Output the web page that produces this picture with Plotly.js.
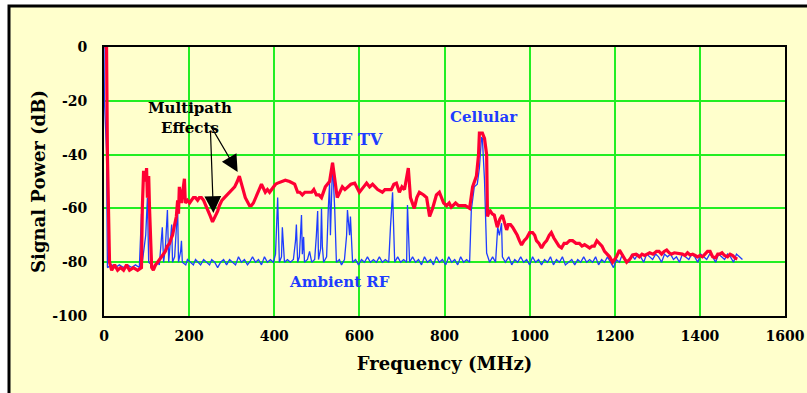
<!DOCTYPE html>
<html>
<head>
<meta charset="utf-8">
<script src="https://cdn.plot.ly/plotly-3.0.1.min.js"></script>
<style>html,body{margin:0;padding:0;background:#fff;}#chart{width:807px;height:393px;}</style>
</head>
<body>
<div id="chart"></div>
<script>
// Red trace (signal with multipath), frequency in MHz and power in dB
const redFreq = [1,6,8,13,18,25,32,39,46,53,60,69,79,88,90,93,98,100,102,105,107,112,116,121,126,130,135,140,144,149,154,158,161,166,170,173,175,177,182,184,189,191,196,201,206,210,215,220,224,229,234,243,250,255,262,267,271,277,283,289,295,301,307,313,318,325,332,342,346,351,356,361,366,370,379,384,389,398,403,408,417,426,436,442,448,455,460,466,472,478,488,493,499,505,511,520,530,537,544,548,554,560,566,572,580,589,594,600,610,617,624,631,637,643,654,660,666,675,681,687,694,700,706,715,720,725,729,735,741,751,758,765,772,781,788,798,805,811,816,826,833,840,849,859,866,875,880,882,889,894,899,901,906,912,917,924,930,936,946,950,955,960,964,971,976,981,987,993,1000,1007,1012,1016,1022,1028,1034,1040,1046,1051,1057,1063,1069,1075,1081,1087,1094,1101,1109,1117,1123,1129,1135,1141,1147,1152,1158,1164,1170,1176,1182,1188,1195,1200,1204,1211,1216,1220,1228,1235,1242,1250,1258,1264,1270,1276,1282,1290,1298,1304,1310,1316,1322,1328,1333,1340,1345,1352,1359,1365,1371,1377,1383,1389,1394,1400,1406,1412,1418,1424,1430,1437,1442,1446,1452,1458,1465,1471,1477,1483,1488,1494,1500];
const redPower = [0,0,-40,-80,-83,-81,-83,-82,-83,-81,-83,-82,-83,-82,-60,-46,-50,-45,-56,-48,-60,-82,-83,-81,-80,-79,-78,-77,-76,-74,-73,-71,-70,-66,-63,-57,-62,-52,-58,-55,-49,-58,-57,-58,-57,-56,-56,-57,-56,-56,-57,-60,-63,-65,-63,-61,-59,-57,-56,-55,-54,-53,-52,-50,-48,-52,-56,-59,-59,-58,-56,-54,-52,-51,-54,-53,-54,-52,-51,-50.6,-50,-49.5,-50,-50.5,-51,-54,-54,-55,-54,-54,-54,-53,-55,-55,-56,-52,-50,-43,-52,-56,-54,-52,-53,-52,-51,-50.6,-52,-54,-52,-50.6,-52,-51,-52,-53,-54,-53,-53,-53,-51,-50.6,-54,-52,-53,-45,-56,-58,-60,-56,-54,-55,-56,-63,-60,-55,-54,-58,-59,-58,-59.5,-58,-59,-59,-59,-60,-52,-48,-40,-32,-32,-34,-40,-63,-60.6,-62,-62.5,-67,-64,-62.5,-68,-66,-66,-67,-68,-70,-72,-73.6,-72,-71,-69,-69,-70,-72,-73,-74.7,-73,-72,-70,-69,-71,-72.5,-74,-74.7,-73,-73,-72,-72,-73,-73,-74,-73.5,-74,-74.7,-74,-74,-72,-73,-74,-76,-77,-78,-80,-79,-78,-75.5,-77,-78,-80,-79,-77.3,-77,-78,-77,-77.5,-77,-76.5,-77,-76,-76,-77,-76,-75.5,-76.5,-77,-76.5,-76.6,-77,-77,-77.5,-76.5,-77.3,-77,-77.5,-78,-77.5,-78,-77,-76,-76,-78,-78.4,-77,-77,-76.5,-77.5,-78,-77,-77.5,-78.5,-78.8];

// Blue trace (ambient RF)
const blueFreq = [0,1,6,8,18,27,36,46,55,65,74,83,88,90,98,102,105,112,119,126,130,137,140,144,149,152,156,159,161,166,173,175,180,182,184,192,196,203,210,215,220,227,234,241,248,253,260,267,274,281,288,295,302,309,316,323,330,337,342,349,356,363,370,377,384,391,398,403,408,412,417,419,424,431,438,445,450,452,455,459,464,466,469,471,478,483,488,495,499,502,504,509,511,513,516,523,527,530,532,537,542,546,553,558,565,570,572,577,579,584,591,598,605,612,619,626,633,640,647,654,661,669,673,678,683,690,697,704,711,713,718,725,732,739,746,753,760,767,774,781,788,795,803,810,817,824,831,838,845,852,859,863,870,877,882,887,889,894,899,906,913,920,925,929,934,936,943,951,958,965,972,979,986,993,1000,1007,1014,1021,1028,1035,1042,1049,1056,1063,1070,1077,1084,1092,1099,1106,1113,1120,1127,1134,1141,1148,1155,1162,1169,1176,1183,1190,1197,1204,1211,1218,1225,1233,1240,1247,1254,1261,1268,1275,1282,1289,1296,1303,1310,1317,1324,1331,1338,1345,1352,1359,1366,1374,1381,1388,1395,1402,1409,1416,1423,1430,1437,1444,1451,1458,1465,1472,1479,1486,1493,1500];
const bluePower = [0,-20,-39,-82,-81,-82,-81,-82,-81,-82,-81,-82,-62,-80,-70,-56,-80,-81,-82,-80,-81,-67,-80,-75,-60.6,-80,-72,-66,-80,-78,-59.5,-80,-76,-72,-80,-81,-79,-80,-81,-79,-80,-81,-79,-80,-81,-79,-80,-82,-80,-79,-81,-79,-80,-81,-78,-80,-79,-81,-80,-78,-80,-79,-81,-78,-80,-79,-80,-77,-56,-80,-78,-67,-80,-79,-80,-79,-72,-66,-80,-78,-62.5,-77,-70.6,-80,-79,-76,-80,-79,-70,-61,-79,-75,-60,-74,-80,-78,-60,-50.6,-70,-43,-60,-80,-79,-81,-79,-70,-60.6,-70,-63,-80,-79,-81,-79,-80,-78,-80,-79,-80,-78,-80,-79,-80,-67,-54,-80,-78,-80,-79,-80,-58.7,-80,-78,-80,-79,-81,-78,-80,-79,-81,-78,-80,-79,-81,-78,-80,-79,-81,-78,-80,-79,-80,-60.6,-52,-51,-45,-33.5,-34,-49.5,-76.6,-80,-78,-80,-67,-70,-65.5,-78,-80,-78,-81,-79,-80,-78,-80,-79,-81,-78,-80,-79,-81,-79,-80,-78,-81,-79,-80,-78,-81,-80,-79,-81,-79,-80,-78,-80,-79,-80,-78,-81,-79,-80,-78,-80,-82,-79,-80,-77,-79,-80,-77,-79,-77,-78,-80,-77,-78,-79,-77,-78,-80,-77,-78,-77,-79,-78,-80,-77,-78,-79,-77,-78,-80,-77,-78,-79,-77,-78,-80,-77,-78,-79,-77,-78,-80,-77,-78,-79];

const xTicks = [0,200,400,600,800,1000,1200,1400,1600];
const yTicks = [0,-20,-40,-60,-80,-100];

const SERIF = '"DejaVu Serif", "Liberation Serif", serif';
const BLUE = '#1E3CFF';
const RED = '#FF0033';
const GRID = '#22EE22';

const traces = [
  {x: blueFreq, y: bluePower, mode: 'lines', line: {color: BLUE, width: 1.3}, hoverinfo: 'skip'},
  {x: redFreq, y: redPower, mode: 'lines', line: {color: RED, width: 3.2}, hoverinfo: 'skip'}
];

const layout = {
  width: 807, height: 393,
  margin: {l: 104, r: 22, t: 47, b: 77},
  paper_bgcolor: '#FFFFFF',
  plot_bgcolor: '#FFFFCC',
  showlegend: false,
  font: {family: SERIF, color: '#000'},
  xaxis: {
    range: [0, 1600], tickvals: xTicks, ticktext: xTicks.map(String),
    showgrid: true, gridcolor: GRID, gridwidth: 2,
    zeroline: false, showline: true, linecolor: '#000', linewidth: 2, mirror: true,
    ticks: '', ticklabelstandoff: 6,
    tickfont: {family: SERIF, size: 14, color: '#000', weight: 'bold'},
    title: {text: 'Frequency (MHz)', font: {family: SERIF, size: 18, color: '#000', weight: 'bold'}, standoff: 15}
  },
  yaxis: {
    range: [-100, 0], tickvals: yTicks, ticktext: yTicks.map(String),
    showgrid: true, gridcolor: GRID, gridwidth: 2,
    zeroline: false, showline: true, linecolor: '#000', linewidth: 2, mirror: true,
    ticks: '', ticklabelstandoff: 12,
    tickfont: {family: SERIF, size: 14, color: '#000', weight: 'bold'},
    title: {text: 'Signal Power (dB)', font: {family: SERIF, size: 18, color: '#000', weight: 'bold'}, standoff: 2}
  },
  shapes: [
    {type: 'rect', xref: 'paper', yref: 'paper', x0: -0.1395, x1: 1.04, y0: -0.32, y1: 1.152,
     fillcolor: '#FFFFCC', line: {color: '#000', width: 3}, layer: 'below'}
  ],
  annotations: [
    {x: 202, y: -26.5, xref: 'x', yref: 'y', text: 'Multipath<br>Effects', showarrow: false,
     font: {family: SERIF, size: 15, color: '#000', weight: 'bold'}, align: 'center'},
    {x: 257, y: -61.7, xref: 'x', yref: 'y', text: '', showarrow: true, ax: -3, ay: -84,
     arrowhead: 2, arrowsize: 2.8, arrowwidth: 1.2, arrowcolor: '#000'},
    {x: 314, y: -46.5, xref: 'x', yref: 'y', text: '', showarrow: true, ax: -28, ay: -48,
     arrowhead: 2, arrowsize: 2.8, arrowwidth: 1.2, arrowcolor: '#000'},
    {x: 572, y: -34.5, xref: 'x', yref: 'y', text: 'UHF TV', showarrow: false,
     font: {family: SERIF, size: 16, color: BLUE, weight: 'bold'}},
    {x: 892, y: -26, xref: 'x', yref: 'y', text: 'Cellular', showarrow: false,
     font: {family: SERIF, size: 15, color: BLUE, weight: 'bold'}},
    {x: 553, y: -87.5, xref: 'x', yref: 'y', text: 'Ambient RF', showarrow: false,
     font: {family: SERIF, size: 15, color: BLUE, weight: 'bold'}}
  ]
};

Plotly.newPlot('chart', traces, layout, {displayModeBar: false, staticPlot: true});
</script>
</body>
</html>
